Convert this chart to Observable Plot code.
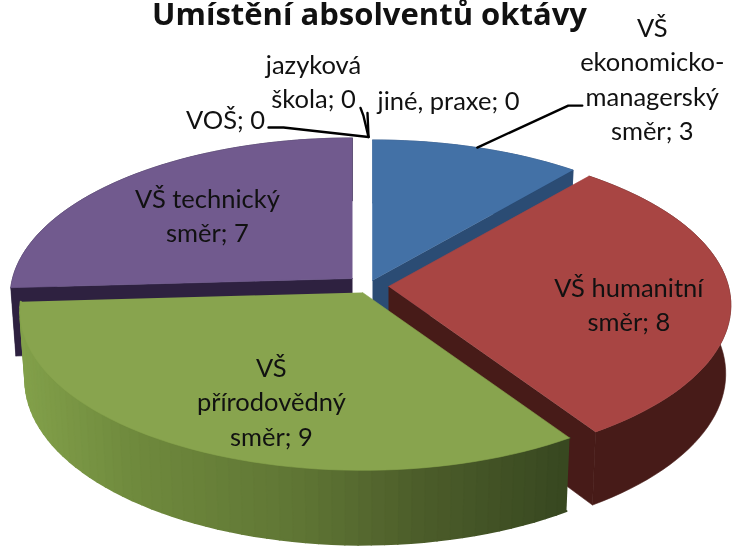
<!DOCTYPE html>
<html lang="cs">
<head>
<meta charset="utf-8">
<script src="https://cdn.jsdelivr.net/npm/d3@7"></script>
<script src="https://cdn.jsdelivr.net/npm/@observablehq/plot@0.6"></script>
<style>html,body{margin:0;padding:0;background:#fff}</style>
</head>
<body>
<div id="chart"></div>
<script>
// Data
const chartTitle = "Umístění absolventů oktávy";
const categories = ["VŠ\nekonomicko-\nmanagerský\nsměr", "VŠ humanitní\nsměr", "VŠ\npřírodovědný\nsměr", "VŠ technický\nsměr", "VOŠ", "jazyková\nškola", "jiné, praxe"];
const values = [3, 8, 9, 7, 0, 0, 0];

// Styles
const topColors = ["#4371a6", "#a84543", "#88a44e", "#715a8e"];
const sideColors = ["#2b4c74", "#471b18", "#566b30", "#2e2140"];
const greenRimX = [20, 130, 300, 420, 570];
const greenRimColors = ["#82a04a", "#6f8a3d", "#5f7534", "#4c5d2a", "#374720"];

// Layout of the exploded pie in perspective
const W = 738, H = 546;
const Rx = 340, Ry = 157, persp = 0.117, depth = 68, bottomScale = 0.985;
const apexX = [372, 388, 362, 352, 368, 368, 368];
const apexY = [280, 286, 292, 278, 277, 277, 277];
const labelRadius = [1, 0.62, 0.62, 0.62, 1, 1, 1];
const labelNudgeX = [175, 29, 10, 1, -143, -55, 80];
const labelNudgeY = [-70, 11, 15, -0.5, -19, -57, -38];
const leaderBends = [[[91, -42], [105, -42]], null, null, null, [[-85, -9.4], [-100, -9.4]], [[-5, -21], [-8, -29]], [[-1, -24]]];
const drawOrder = [3, 0, 1, 2];

const total = d3.sum(values);
let acc = 0;
const slices = values.map((v, i) => {
  const a0 = acc / total * 2 * Math.PI;
  acc += v;
  return {i, a0, a1: acc / total * 2 * Math.PI, ax: apexX[i], ay: apexY[i]};
});

const top3d = (s, t, r = 1) => {
  const u = r * Math.sin(t), v = r * Math.cos(t), w = 1 + persp * v;
  return {x: s.ax + Rx * u / w, y: s.ay - Ry * v / w};
};
const bottom3d = (s, t, r = 1) => {
  const u = r * Math.sin(t), v = r * Math.cos(t), w = 1 + persp * v;
  return {x: s.ax + bottomScale * Rx * u / w, y: s.ay - bottomScale * Ry * v / w + depth / w};
};
const angles = (a0, a1, step = Math.PI / 90) => {
  const n = Math.max(1, Math.ceil((a1 - a0) / step));
  return d3.range(n + 1).map(k => a0 + (a1 - a0) * k / n);
};
const poly = (pts, fill, sw = 0.6) => Plot.line(pts, {x: "x", y: "y", fill, stroke: fill, strokeWidth: sw, curve: "linear"});

const greenRim = d3.scaleLinear().domain(greenRimX).range(greenRimColors).clamp(true);
const marks = [];
for (const i of drawOrder) {
  const s = slices[i];
  const arc = angles(s.a0, s.a1);
  // outer rim
  if (s.i === 2) {
    for (let k = 0; k < arc.length - 1; k++) {
      const a = top3d(s, arc[k]), b = top3d(s, arc[k + 1]);
      marks.push(poly([a, b, bottom3d(s, arc[k + 1]), bottom3d(s, arc[k])], greenRim((a.x + b.x) / 2), 2));
    }
  } else {
    marks.push(poly([...arc.map(t => top3d(s, t)), ...arc.slice().reverse().map(t => bottom3d(s, t))], sideColors[s.i]));
  }
  // visible radial cut face
  if (s.i !== 2) {
    const cutAngle = s.i === 3 ? s.a0 : s.a1;
    marks.push(poly([top3d(s, cutAngle, 0), top3d(s, cutAngle), bottom3d(s, cutAngle), bottom3d(s, cutAngle, 0)], sideColors[s.i]));
  }
  // top surface
  marks.push(poly([top3d(s, s.a0, 0), ...arc.map(t => top3d(s, t))], topColors[s.i]));
}

// Leader lines and labels derive from each slice's projected middle
const labelData = slices.map(s => {
  const mid = (s.a0 + s.a1) / 2;
  const anchor = top3d(s, mid, labelRadius[s.i]);
  return {
    text: `${categories[s.i]}; ${values[s.i]}`,
    x: anchor.x + labelNudgeX[s.i],
    y: anchor.y + labelNudgeY[s.i],
    anchor,
    bends: leaderBends[s.i]
  };
});
for (const d of labelData) {
  if (d.bends) {
    const pts = [d.anchor, ...d.bends.map(([dx, dy]) => ({x: d.anchor.x + dx, y: d.anchor.y + dy}))];
    marks.push(Plot.line(pts, {x: "x", y: "y", stroke: "#000", strokeWidth: 2.4, curve: "linear"}));
  }
}
marks.push(Plot.text(labelData, {
  x: "x", y: "y", text: "text", fill: "#111", fontSize: 25.5, lineHeight: 1.34,
  lineAnchor: "middle", textAnchor: "middle", fontFamily: "Lato"
}));
marks.push(Plot.text([chartTitle], {
  x: [W / 2], y: [15], text: d => d, fill: "#111", fontSize: 31, fontWeight: 700,
  lineAnchor: "middle", textAnchor: "middle", fontFamily: "Open Sans"
}));

document.getElementById("chart").append(Plot.plot({
  width: W, height: H, margin: 0,
  x: {domain: [0, W], range: [0, W], axis: null},
  y: {domain: [0, H], range: [0, H], axis: null},
  style: {background: "#fff", filter: "blur(0.5px)", display: "block"},
  marks
}));
</script>
</body>
</html>
